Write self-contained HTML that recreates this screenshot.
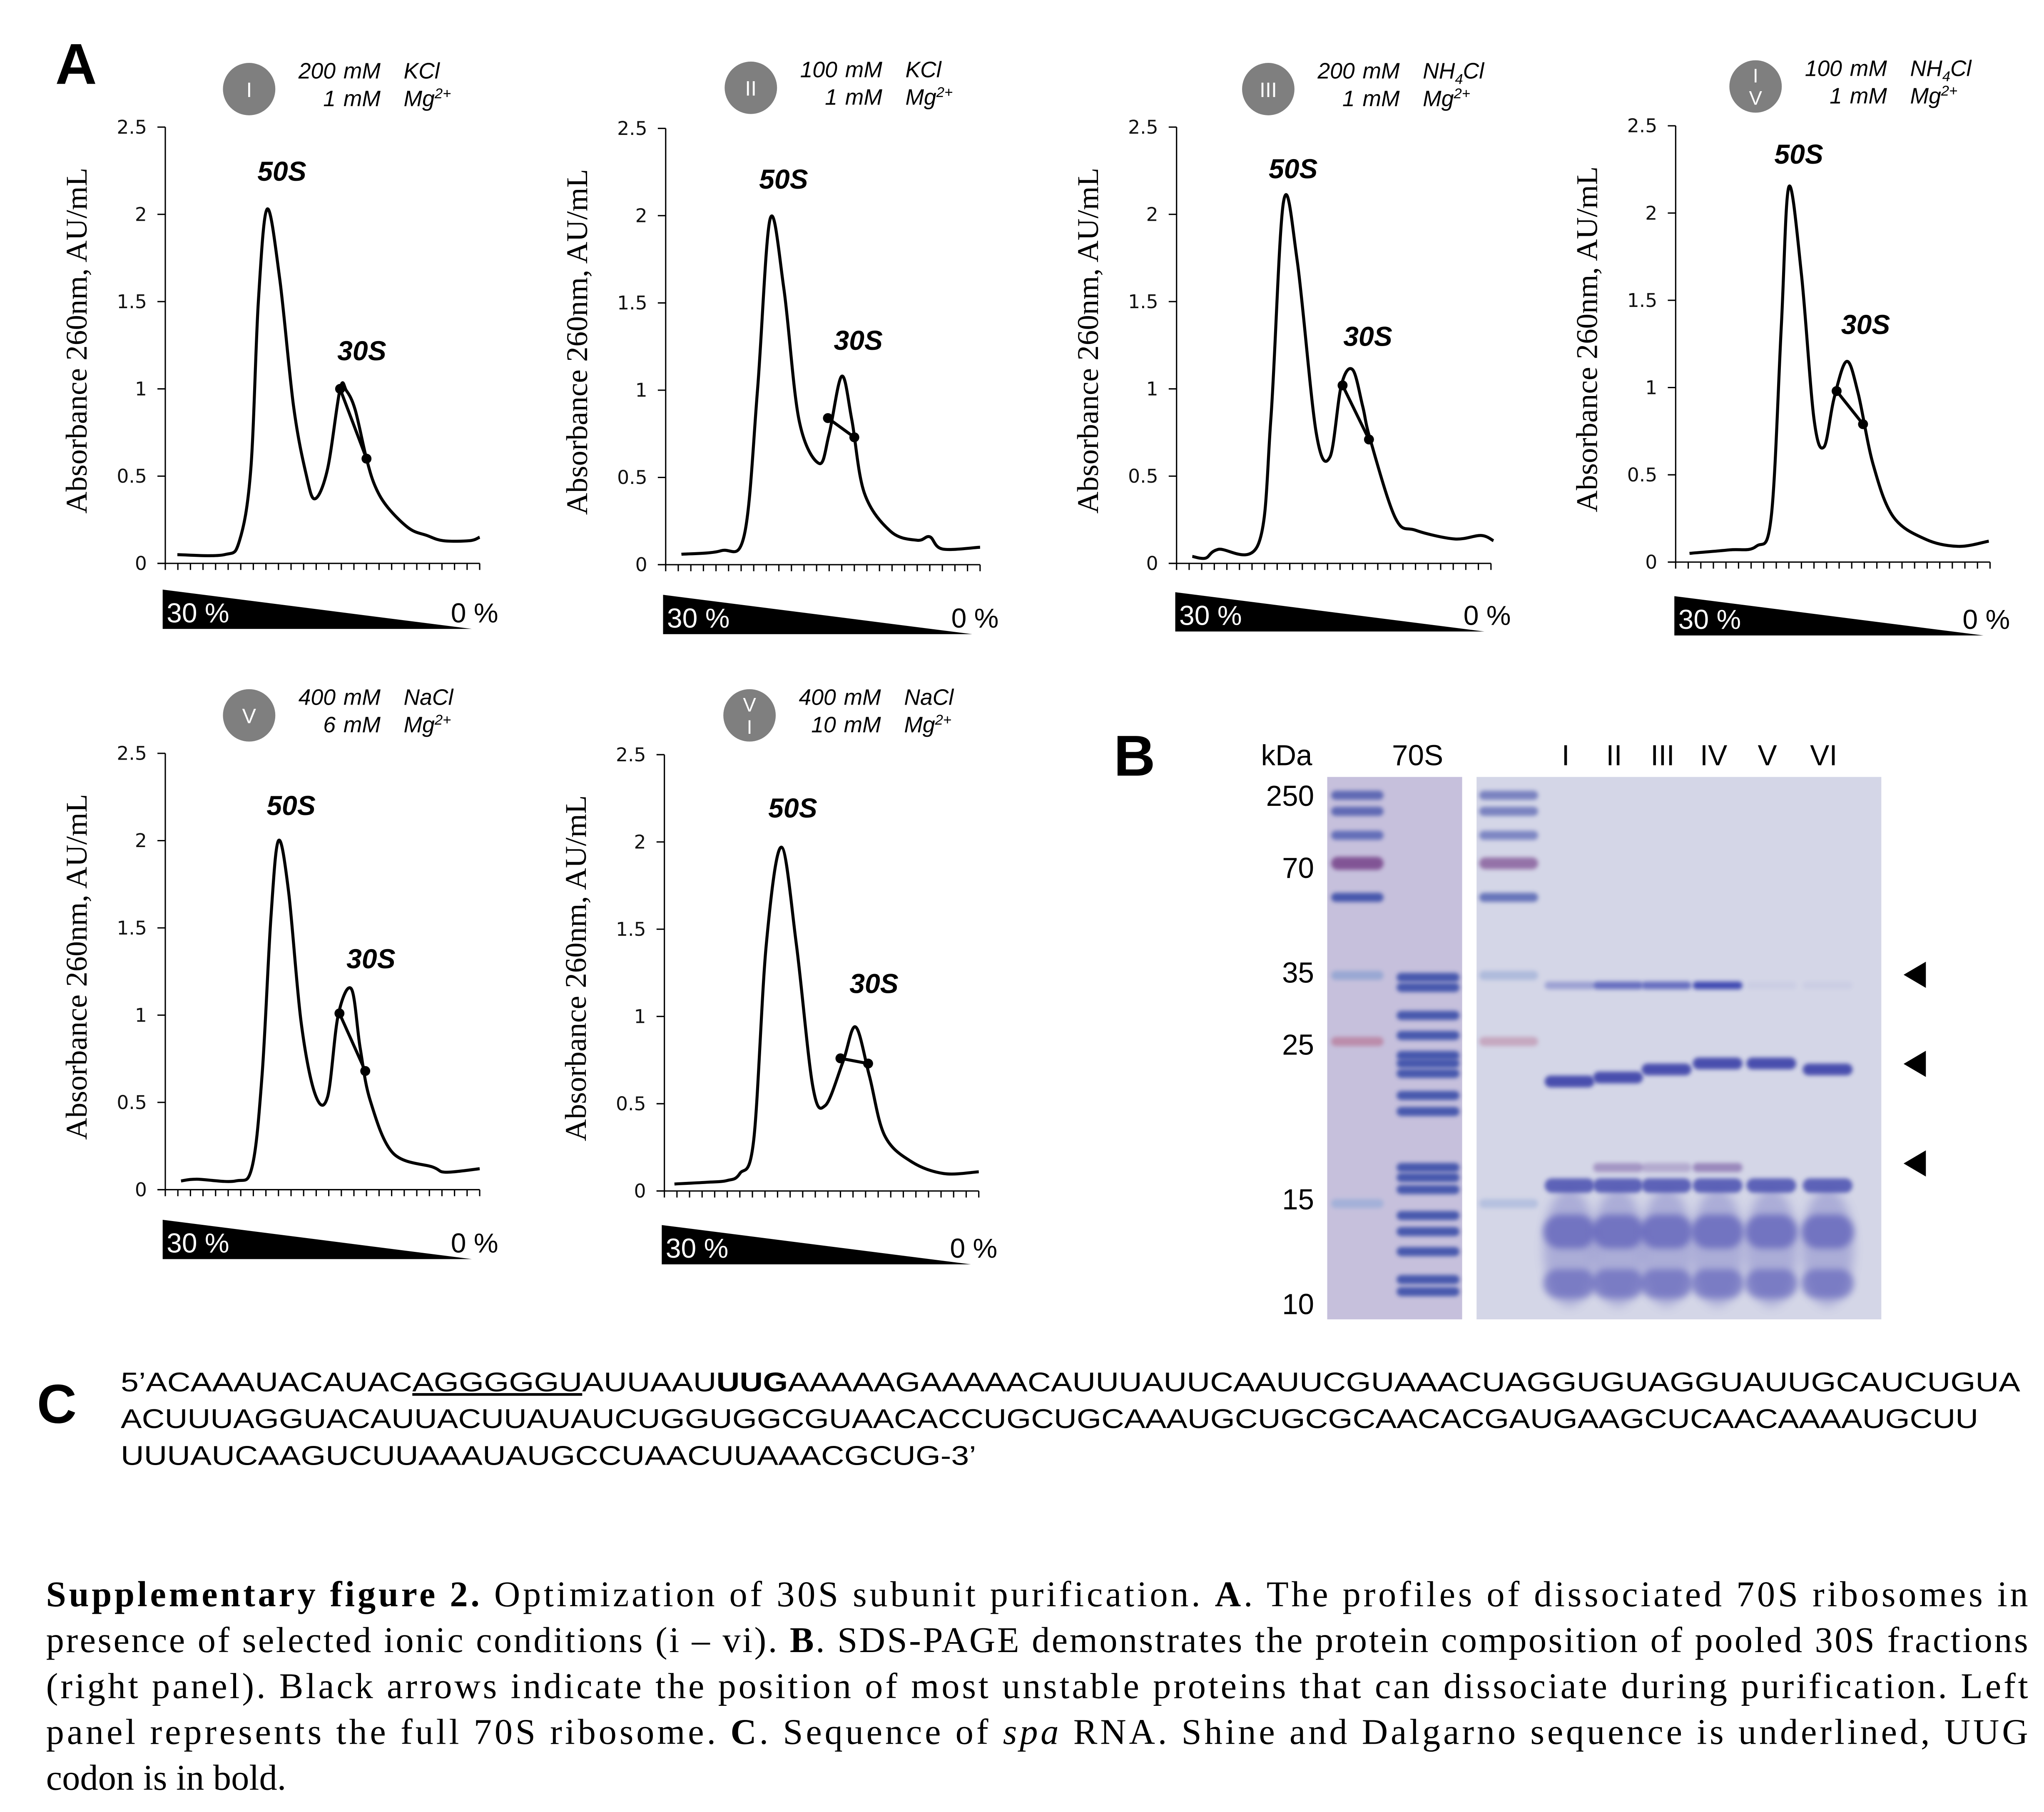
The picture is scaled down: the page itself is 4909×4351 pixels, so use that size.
<!DOCTYPE html>
<html><head><meta charset="utf-8"><style>
html,body{margin:0;padding:0;background:#fff}
svg{display:block}
.tk{font-family:"DejaVu Sans","Liberation Sans",sans-serif;font-size:14.5px;fill:#111}
.yt{font-family:"Liberation Serif",serif;font-size:23px;fill:#000}
.cond{font-family:"Liberation Sans",sans-serif;font-style:italic;font-size:17px;fill:#000}
.pk{font-family:"Liberation Sans",sans-serif;font-style:italic;font-weight:bold;font-size:21px;fill:#000}
.gr{font-family:"Liberation Sans",sans-serif;font-size:21px}
.gl{font-family:"Liberation Sans",sans-serif;font-size:22px;fill:#000}
.seq{font-family:"Liberation Sans",sans-serif;font-size:20.5px;fill:#000}
.cap{font-family:"Liberation Serif",serif;font-size:27.5px;fill:#000}
</style></head><body>
<svg id="fig" xmlns="http://www.w3.org/2000/svg" width="4909" height="4351" viewBox="0 0 1560 1383">
<defs>
<filter id="bl" x="-20%" y="-200%" width="140%" height="500%"><feGaussianBlur stdDeviation="1.6"/></filter>
<filter id="bl2" x="-20%" y="-200%" width="140%" height="500%"><feGaussianBlur stdDeviation="2.6"/></filter>
<filter id="bl3" x="-20%" y="-50%" width="140%" height="200%"><feGaussianBlur stdDeviation="4"/></filter>
</defs>
<rect x="0" y="0" width="1560" height="1383" fill="#fff"/>
<text x="42" y="64" font-family="Liberation Sans,sans-serif" font-weight="bold" font-size="44">A</text>
<text x="850" y="592" font-family="Liberation Sans,sans-serif" font-weight="bold" font-size="44">B</text>
<text x="28" y="1086" font-family="Liberation Sans,sans-serif" font-weight="bold" font-size="42">C</text>
<g id="charts"></g>
<g id="gel"></g>

<g>
<text class="seq" x="92" y="1062" textLength="1450" lengthAdjust="spacingAndGlyphs">5’ACAAAUACAUAC<tspan text-decoration="underline">AGGGGGU</tspan>AUUAAU<tspan font-weight="bold">UUG</tspan>AAAAAGAAAAACAUUUAUUCAAUUCGUAAACUAGGUGUAGGUAUUGCAUCUGUA</text>
<text class="seq" x="92" y="1090" textLength="1418" lengthAdjust="spacingAndGlyphs">ACUUUAGGUACAUUACUUAUAUCUGGUGGCGUAACACCUGCUGCAAAUGCUGCGCAACACGAUGAAGCUCAACAAAAUGCUU</text>
<text class="seq" x="92" y="1118" textLength="653" lengthAdjust="spacingAndGlyphs">UUUAUCAAGUCUUAAAUAUGCCUAACUUAAACGCUG-3’</text>
</g>

<g>
<text class="cap" x="35" y="1226" textLength="1513" lengthAdjust="spacing"><tspan font-weight="bold">Supplementary figure 2.</tspan> Optimization of 30S subunit purification. <tspan font-weight="bold">A</tspan>. The profiles of dissociated 70S ribosomes in</text>
<text class="cap" x="35" y="1261" textLength="1513" lengthAdjust="spacing">presence of selected ionic conditions (i – vi). <tspan font-weight="bold">B</tspan>. SDS-PAGE demonstrates the protein composition of pooled 30S fractions</text>
<text class="cap" x="35" y="1296" textLength="1513" lengthAdjust="spacing">(right panel). Black arrows indicate the position of most unstable proteins that can dissociate during purification. Left</text>
<text class="cap" x="35" y="1331" textLength="1513" lengthAdjust="spacing">panel represents the full 70S ribosome. <tspan font-weight="bold">C</tspan>. Sequence of <tspan font-style="italic">spa</tspan> RNA. Shine and Dalgarno sequence is underlined, UUG</text>
<text class="cap" x="35" y="1366">codon is in bold.</text>
</g>
</svg>
<script>
const NS='http://www.w3.org/2000/svg';
// ---- chart data (x in tick-units 0..25, y in AU/mL) ----
const yTicks=[0,0.5,1,1.5,2,2.5];
const yTickLabels=['0','0.5','1','1.5','2','2.5'];
const panelIds=['I','II','III','IV','V','VI'];
const saltConc=['200','100','200','100','400','400'];
const saltName=['KCl','KCl','NH4Cl','NH4Cl','NaCl','NaCl'];
const mgConc=['1','1','1','1','6','10'];
const xI=[0.96,4.7,5.9,6.8,7.4,8.1,9.1,10.2,11.2,11.9,12.9,13.9,14.4,15.1,16,16.7,17.7,19.4,20.8,22.1,24.2,25];
const yI=[0.05,0.05,0.13,0.54,1.5,2.03,1.63,0.9,0.51,0.37,0.54,1.0,0.99,0.88,0.6,0.44,0.32,0.2,0.16,0.13,0.13,0.15];
const xII=[1.25,4.4,6.25,7.3,8.3,9.4,10.6,12.2,13,14,14.8,15.8,17.9,20,21,22,25];
const yII=[0.06,0.08,0.17,1.0,1.98,1.58,0.83,0.58,0.75,1.08,0.83,0.41,0.19,0.14,0.16,0.09,0.1];
const xIII=[1.25,2.3,3.3,6.5,7.5,8.5,9.6,11.1,12.2,13.1,14,14.8,15.4,17.4,19,22.1,24.2,25.2];
const yIII=[0.04,0.03,0.08,0.11,0.83,2.07,1.73,0.75,0.61,1.02,1.11,0.9,0.71,0.26,0.19,0.14,0.16,0.13];
const xIV=[1.1,4.3,6.4,7.6,8.4,9,10,11,11.8,12.6,13.6,14.5,15.7,17.3,19.9,22.5,24.9];
const yIV=[0.05,0.07,0.09,0.26,1.35,2.15,1.65,0.82,0.66,0.94,1.15,0.97,0.56,0.26,0.13,0.09,0.12];
const xV=[1.25,2.5,5.6,6.9,7.7,8.4,9,9.8,10.8,11.9,12.9,13.75,14.8,15.5,16.3,18.1,21.25,22.3,25];
const yV=[0.05,0.06,0.05,0.13,0.66,1.56,2.0,1.71,0.96,0.55,0.53,1.0,1.15,0.81,0.51,0.21,0.13,0.1,0.12];
const xVI=[0.8,3.4,5,6,7.1,8.1,9.3,10.5,11.8,12.8,14.2,15.2,16.3,17.5,19.6,22.2,25];
const yVI=[0.04,0.05,0.06,0.1,0.29,1.41,1.97,1.41,0.6,0.49,0.74,0.94,0.66,0.32,0.17,0.1,0.11];
const seriesX=[xI,xII,xIII,xIV,xV,xVI];
const seriesY=[yI,yII,yIII,yIV,yV,yVI];
const markX=[[13.9,16],[12.9,15.0],[13.2,15.3],[12.8,14.9],[13.85,15.9],[14,16.2]];
const markY=[[1.0,0.6],[0.84,0.73],[1.02,0.71],[0.98,0.79],[1.01,0.68],[0.76,0.73]];
// ---- layout ----
const L=[{ax:126,y0:430,cx:190,cy:68,p50:[215,138],p30:[276,275],gx:124,gy:450},
{ax:508,y0:431,cx:573,cy:67,p50:[598,144],p30:[655,267],gx:506,gy:454},
{ax:898,y0:430,cx:968,cy:68,p50:[987,136],p30:[1044,264],gx:897,gy:452},
{ax:1279,y0:429,cx:1340,cy:66,p50:[1373,125],p30:[1424,255],gx:1278,gy:455},
{ax:126,y0:908,cx:190,cy:546,p50:[222,622],p30:[283,739],gx:124,gy:931},
{ax:507,y0:909,cx:572,cy:546,p50:[605,624],p30:[667,758],gx:505,gy:935}];
const W=240,H=333;
function el(t,a,p){const e=document.createElementNS(NS,t);for(const k in a)e.setAttribute(k,a[k]);p.appendChild(e);return e;}
function path(pts){let d='M'+pts[0][0]+','+pts[0][1];for(let i=0;i<pts.length-1;i++){const p0=pts[Math.max(0,i-1)],p1=pts[i],p2=pts[i+1],p3=pts[Math.min(pts.length-1,i+2)];const c1=[p1[0]+(p2[0]-p0[0])/6,p1[1]+(p2[1]-p0[1])/6],c2=[p2[0]-(p3[0]-p1[0])/6,p2[1]-(p3[1]-p1[1])/6];d+=' C'+c1[0].toFixed(2)+','+c1[1].toFixed(2)+' '+c2[0].toFixed(2)+','+c2[1].toFixed(2)+' '+p2[0].toFixed(2)+','+p2[1].toFixed(2);}return d;}
const root=document.getElementById('charts');
L.forEach((lay,i)=>{
 const g=el('g',{},root);
 
 
 const sx=t=>lay.ax+t*W/25, sy=v=>lay.y0-v*H/2.5;
 const c=el('circle',{cx:lay.cx,cy:lay.cy,r:20,fill:'#7f7f7f'},g);
 
 
 const id=panelIds[i];
 if(id==='IV'||id==='VI'){const a=id==='IV'?['I','V']:['V','I'];
  a.forEach((s,k)=>{const t=el('text',{x:lay.cx,y:lay.cy-3+k*17,'text-anchor':'middle','font-family':'Liberation Sans,sans-serif','font-size':15,fill:'#fff'},g);t.textContent=s;
  
  });}
 else{const t=el('text',{x:lay.cx,y:lay.cy+6,'text-anchor':'middle','font-family':'Liberation Sans,sans-serif','font-size':16,fill:'#fff'},g);t.textContent=id;
  
  }
 const c1=el('text',{class:'cond',x:lay.cx+66,y:lay.cy-8,'text-anchor':'end'},g);c1.textContent=saltConc[i];
 
 
 const m1=el('text',{class:'cond',x:lay.cx+72,y:lay.cy-8},g);m1.textContent='mM';
 
 
 const s1=el('text',{class:'cond',x:lay.cx+118,y:lay.cy-8},g);
 
 
 if(saltName[i]==='NH4Cl'){s1.innerHTML='NH<tspan font-size="11" dy="4">4</tspan><tspan dy="-4">Cl</tspan>';}else s1.textContent=saltName[i];
 const c2=el('text',{class:'cond',x:lay.cx+66,y:lay.cy+13,'text-anchor':'end'},g);c2.textContent=mgConc[i];
 
 
 const m2=el('text',{class:'cond',x:lay.cx+72,y:lay.cy+13},g);m2.textContent='mM';
 
 
 const s2=el('text',{class:'cond',x:lay.cx+118,y:lay.cy+13},g);s2.innerHTML='Mg<tspan font-size="11" dy="-6">2+</tspan>';
 
 
 const ya=el('line',{x1:lay.ax,y1:sy(2.5),x2:lay.ax,y2:lay.y0,stroke:'#000','stroke-width':1},g);
 
 
 const xa=el('line',{x1:lay.ax-6,y1:lay.y0,x2:lay.ax+W,y2:lay.y0,stroke:'#000','stroke-width':1},g);
 
 
 yTicks.forEach((v,k)=>{
  const tl=el('line',{x1:lay.ax-6,y1:sy(v),x2:lay.ax,y2:sy(v),stroke:'#000','stroke-width':1},g);
  
  
  const tx=el('text',{class:'tk',x:lay.ax-14,y:sy(v)+5,'text-anchor':'end'},g);tx.textContent=yTickLabels[k];
  
  
 });
 for(let t=0;t<=25;t++){const tl=el('line',{x1:sx(t),y1:lay.y0,x2:sx(t),y2:lay.y0+5,stroke:'#000','stroke-width':1},g);
  
  }
 const ytl=el('text',{class:'yt',x:0,y:0,'text-anchor':'middle',transform:'translate('+(lay.ax-60)+','+(lay.y0-170)+') rotate(-90)',textLength:264,lengthAdjust:'spacingAndGlyphs'},g);
 ytl.textContent='Absorbance 260nm, AU/mL';
 
 
 const pts=seriesX[i].map((x,k)=>[sx(x),sy(seriesY[i][k])]);
 const cv=el('path',{d:path(pts),fill:'none',stroke:'#000','stroke-width':2.3,'stroke-linejoin':'round'},g);
 
 
 const mx=markX[i],my=markY[i];
 const ml=el('line',{x1:sx(mx[0]),y1:sy(my[0]),x2:sx(mx[1]),y2:sy(my[1]),stroke:'#000','stroke-width':2.3},g);
 
 
 mx.forEach((x,k)=>{const d=el('circle',{cx:sx(x),cy:sy(my[k]),r:3.8,fill:'#000'},g);
  
  });
 const a50=el('text',{class:'pk',x:lay.p50[0],y:lay.p50[1],'text-anchor':'middle'},g);a50.textContent='50S';
 
 
 const a30=el('text',{class:'pk',x:lay.p30[0],y:lay.p30[1],'text-anchor':'middle'},g);a30.textContent='30S';
 
 
 const wd=el('polygon',{points:lay.gx+','+lay.gy+' '+(lay.gx+236)+','+(lay.gy+30)+' '+lay.gx+','+(lay.gy+30),fill:'#000'},g);
 
 
 const g30=el('text',{class:'gr',x:lay.gx+3,y:lay.gy+25,fill:'#fff'},g);g30.textContent='30 %';
 
 
 const g0=el('text',{class:'gr',x:lay.gx+220,y:lay.gy+25,fill:'#000'},g);g0.textContent='0 %';
 
 
});
// ---- gel ----
const gel=document.getElementById('gel');
const zy=z=>607+(z-210)*0.3055;
function band(x,w,y,h,col,op,f){const r=el('rect',{x:x,y:y-h/2,width:w,height:h,rx:h/2,fill:col,opacity:op,filter:'url(#'+(f||'bl')+')'},gel);
 
 return r;}
const lg=el('rect',{x:1013,y:593,width:103,height:414,fill:'#c6c0dc'},gel);


const rg=el('rect',{x:1127,y:593,width:309,height:414,fill:'#d4d6e7'},gel);


const ladderY=[210,250,310,380,465,660,825,1230];
const ladderCol=['#5561b0','#5561b0','#5a66b5','#7a4a8e','#3a4ea8','#8aa0d0','#b87a9a','#98acd8'];
ladderY.forEach((z,k)=>{band(1016,40,zy(z),k===3?10:7,ladderCol[k],k>4?0.75:0.9);band(1129,45,zy(z),k===3?9:7,ladderCol[k],k>4?0.5:0.7);});
const s70=[665,690,760,810,860,880,905,960,1000,1140,1165,1195,1260,1300,1350,1420,1450];
s70.forEach(z=>band(1066,48,zy(z),7,'#3347a6',0.85));
const laneX=[1198,1235,1272,1311,1352,1395];
const b35=[0.35,0.7,0.7,0.95,0.05,0.05];
const y23=[925,915,895,880,880,895];
const b17=[0,0.45,0.3,0.55,0,0];
laneX.forEach((x,k)=>{
 band(x-20,40,zy(1340),90,'#7a7cc4',0.45,'bl3');
 band(x-19,38,zy(685),6,'#3a44b0',b35[k]);
 band(x-19,38,zy(y23[k]),9,'#3a40a8',0.9);
 if(b17[k])band(x-19,38,zy(1140),7,'#6a4a9a',b17[k]);
 band(x-19,38,zy(1185),11,'#4a50b0',0.85);
 band(x-20,40,zy(1300),26,'#5a5cb8',0.7,'bl2');
 band(x-20,40,zy(1430),22,'#5a5cb8',0.6,'bl2');
});
const gl=[['kDa',982,584,'middle'],['70S',1082,584,'middle'],['250',1003,615,'end'],['70',1003,670,'end'],['35',1003,750,'end'],['25',1003,805,'end'],['15',1003,923,'end'],['10',1003,1003,'end']];
gl.forEach(a=>{const t=el('text',{class:'gl',x:a[1],y:a[2],'text-anchor':a[3]},gel);t.textContent=a[0];
 
 });
const laneNames=['I','II','III','IV','V','VI'];
laneNames.forEach((s,k)=>{const t=el('text',{class:'gl',x:laneX[k]-3,y:584,'text-anchor':'middle'},gel);t.textContent=s;
 
 });
[744,812,888].forEach(y=>{const p=el('polygon',{points:'1453,'+y+' 1470,'+(y-10)+' 1470,'+(y+10),fill:'#000'},gel);
 
 });
</script>
</body></html>
